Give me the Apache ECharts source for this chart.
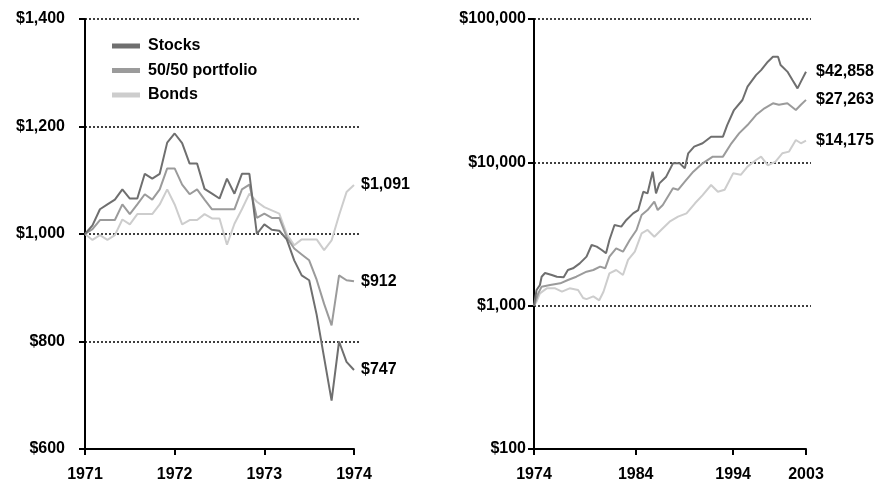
<!DOCTYPE html>
<html>
<head>
<meta charset="utf-8">
<script src="https://cdn.jsdelivr.net/npm/echarts@6/dist/echarts.min.js"></script>
<style>
  html, body { margin: 0; padding: 0; background: #fff; }
  #chart { width: 880px; height: 483px; }
</style>
</head>
<body>
<div id="chart"></div>
<script>
// left panel: monthly values, Jan 1971 .. Jan 1974
const leftStart = 1971
const leftStocks = [1000,1016,1046,1055,1064,1083,1066,1066,1112,1103,1112,1170,1187,1169,1131,1131,1084,1075,1066,1103,1075,1112,1112,1000,1018,1008,1006,990,951,923,914,850,770,690,800,762,747]
const left5050 = [1000,1009,1026,1026,1026,1055,1037,1055,1074,1064,1083,1122,1122,1092,1074,1083,1064,1046,1046,1046,1046,1083,1092,1030,1038,1030,1030,994,973,962,951,915,870,830,923,914,912]
const leftBonds = [1000,989,998,989,998,1027,1018,1037,1037,1037,1055,1083,1055,1018,1026,1026,1037,1029,1029,980,1019,1046,1075,1060,1050,1044,1038,1000,979,990,990,990,970,988,1035,1078,1091]

// right panel: [month index from 1974, value]
const rightStocks = [[0,1000],[3,1286],[7,1393],[9,1592],[13,1690],[21,1637],[27,1592],[35,1577],[40,1774],[46,1822],[54,1973],[62,2198],[68,2650],[74,2582],[80,2444],[85,2319],[89,2870],[95,3653],[103,3560],[109,3962],[117,4406],[123,4645],[129,6236],[134,6076],[140,8610],[144,6076],[148,7129],[156,7943],[164,9840],[172,9840],[178,9080],[182,11560],[189,12860],[199,13580],[209,15100],[223,15100],[228,18200],[236,23170],[246,27220],[252,33720],[262,40600],[268,44000],[276,50330],[282,54540],[288,54540],[291,47770],[299,42950],[305,37500],[311,32800],[315,36580],[321,42858]]
const right5050 = [[0,1000],[5,1219],[9,1357],[19,1393],[31,1431],[40,1511],[50,1592],[62,1727],[70,1774],[78,1872],[84,1822],[89,2198],[97,2512],[105,2381],[113,2870],[121,3374],[127,4294],[134,4645],[142,5320],[146,4645],[152,5035],[164,6590],[170,6434],[178,7330],[188,8610],[199,9840],[211,10960],[223,10960],[233,13580],[242,15920],[252,18200],[262,21380],[272,23820],[282,25800],[289,25200],[299,25800],[309,23170],[315,25200],[321,27263]]
const rightBonds = [[0,1000],[3,1066],[7,1219],[15,1321],[25,1321],[33,1252],[42,1321],[52,1286],[58,1130],[62,1110],[70,1160],[77,1090],[82,1250],[89,1681],[97,1774],[105,1637],[111,2085],[119,2381],[127,3198],[134,3374],[142,3027],[150,3374],[160,3855],[170,4180],[180,4406],[190,5180],[199,5910],[209,6950],[217,6236],[225,6434],[235,8380],[244,8180],[252,9330],[262,10380],[268,10960],[276,9530],[285,10120],[293,11560],[301,11880],[309,14320],[315,13580],[321,14175]]
const rightXTicks = [0, 120, 235, 321]
const rightXLabels = ['1974', '1984', '1994', '2003']

const names = ['Stocks', '50/50 portfolio', 'Bonds']
const colors = ['#6f6f6f', '#9b9b9b', '#cdcdcd']

const font = '"Liberation Sans", Arial, sans-serif'
const money = v => '$' + Math.round(v).toLocaleString('en-US')

const toMonthly = arr => arr.map((v, i) => [leftStart + i / 12, v])

const dotted = { show: true, lineStyle: { color: '#000', type: [2, 2], width: 1.5 } }
const axisBlack = { show: true, lineStyle: { color: '#000', width: 2 } }
const labelStyle = { color: '#000', fontFamily: font, fontWeight: 'bold', fontSize: 16 }

function makeSeries(name, color, data, xi, yi) {
  return {
    name: name,
    type: 'line',
    xAxisIndex: xi,
    yAxisIndex: yi,
    data: data,
    showSymbol: false,
    symbol: 'none',
    lineStyle: { color: color, width: 2 },
    itemStyle: { color: color },
    z: 5 - names.indexOf(name),
    endLabel: {
      show: true,
      distance: xi === 0 ? 7 : 10,
      formatter: p => money(p.value[1]),
      ...labelStyle
    }
  }
}

const chart = echarts.init(document.getElementById('chart'))
chart.setOption({
  animation: false,
  backgroundColor: '#fff',
  grid: [
    { left: 85, top: 19, width: 269, height: 430 },
    { left: 85, top: 19, width: 276, height: 430 },
    { left: 534, top: 19, width: 272, height: 430 },
    { left: 534, top: 19, width: 277, height: 430 }
  ],
  legend: {
    orient: 'vertical',
    left: 112,
    top: 38,
    padding: 0,
    itemWidth: 28,
    itemHeight: 5,
    itemGap: 8.5,
    icon: 'rect',
    data: names,
    textStyle: { ...labelStyle, lineHeight: 16, padding: [0, 0, 0, 3] },
    selectedMode: false
  },
  xAxis: [
    {
      gridIndex: 0, type: 'value', min: 1971, max: 1974, interval: 1,
      axisLine: axisBlack,
      axisTick: { show: true, inside: false, length: 6, lineStyle: { color: '#000', width: 2 } },
      axisLabel: { margin: 18, formatter: v => String(v), ...labelStyle },
      splitLine: { show: false }
    },
    { gridIndex: 1, type: 'value', min: 0, max: 1, show: false },
    {
      gridIndex: 2, type: 'value', min: 0, max: 321,
      axisLine: axisBlack,
      axisTick: { show: true, length: 6, customValues: rightXTicks, lineStyle: { color: '#000', width: 2 } },
      axisLabel: {
        margin: 18, customValues: rightXTicks,
        formatter: v => rightXLabels[rightXTicks.indexOf(v)],
        ...labelStyle
      },
      splitLine: { show: false }
    },
    { gridIndex: 3, type: 'value', min: 0, max: 1, show: false }
  ],
  yAxis: [
    {
      gridIndex: 0, type: 'value', min: 600, max: 1400, interval: 200,
      axisLine: axisBlack,
      axisTick: { show: true, length: 6, lineStyle: { color: '#000', width: 2 } },
      axisLabel: { margin: 20, formatter: money, ...labelStyle },
      splitLine: { show: false }
    },
    {
      gridIndex: 1, type: 'value', min: 600, max: 1400, interval: 200,
      axisLine: { show: false }, axisTick: { show: false }, axisLabel: { show: false },
      splitLine: { ...dotted, showMinLine: false }
    },
    {
      gridIndex: 2, type: 'log', logBase: 10, min: 100, max: 100000,
      axisLine: axisBlack,
      axisTick: { show: true, length: 6, lineStyle: { color: '#000', width: 2 } },
      axisLabel: { margin: 8, formatter: money, ...labelStyle },
      splitLine: { show: false },
      minorTick: { show: false }
    },
    {
      gridIndex: 3, type: 'log', logBase: 10, min: 100, max: 100000,
      axisLine: { show: false }, axisTick: { show: false }, axisLabel: { show: false },
      splitLine: { ...dotted, showMinLine: false }
    }
  ],
  series: [
    makeSeries(names[0], colors[0], toMonthly(leftStocks), 0, 0),
    makeSeries(names[1], colors[1], toMonthly(left5050), 0, 0),
    makeSeries(names[2], colors[2], toMonthly(leftBonds), 0, 0),
    makeSeries(names[0], colors[0], rightStocks, 2, 2),
    makeSeries(names[1], colors[1], right5050, 2, 2),
    makeSeries(names[2], colors[2], rightBonds, 2, 2)
  ]
})
</script>
</body>
</html>
